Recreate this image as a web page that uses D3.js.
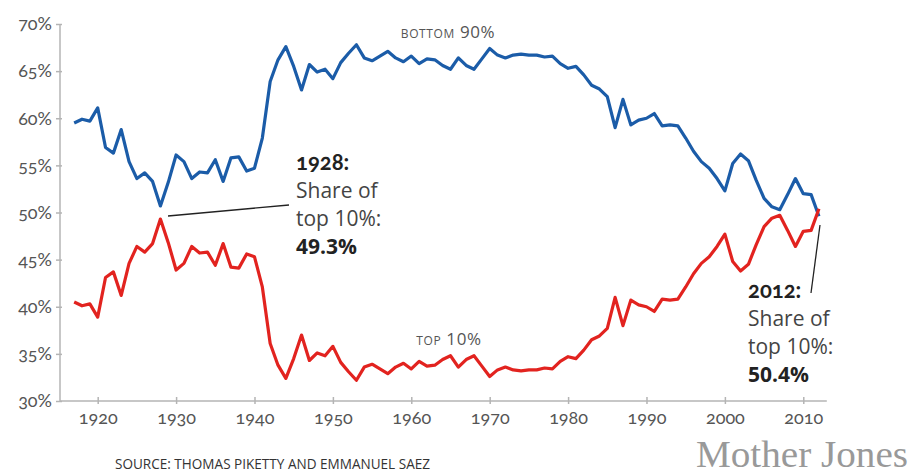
<!DOCTYPE html>
<html>
<head>
<meta charset="utf-8">
<script src="https://cdn.jsdelivr.net/npm/d3@7"></script>
<style>
  html, body { margin: 0; padding: 0; background: #fff; }
  svg { display: block; font-family: "Open Sans", "Noto Sans", sans-serif; }
  .tick-label, .onum { font-family: Lato, "Open Sans", sans-serif; font-variant-numeric: oldstyle-nums; font-feature-settings: "onum" 1; }
</style>
</head>
<body>
<svg id="chart" width="918" height="476"></svg>
<script>
// Share of US pre-tax income, 1917-2012
const years = d3.range(1917, 2013);
const top10 = [
  40.5, 40.1, 40.3, 38.9, 43.1, 43.7, 41.2, 44.6, 46.4, 45.8,
  46.7, 49.3, 46.8, 43.9, 44.6, 46.4, 45.7, 45.8, 44.4, 46.7,
  44.2, 44.1, 45.6, 45.3, 42.1, 36.1, 33.8, 32.4, 34.5, 37.0,
  34.3, 35.1, 34.8, 35.8, 34.1, 33.1, 32.2, 33.6, 33.9, 33.4,
  32.9, 33.6, 34.0, 33.4, 34.2, 33.7, 33.8, 34.4, 34.8, 33.6,
  34.4, 34.8, 33.7, 32.6, 33.3, 33.6, 33.3, 33.2, 33.3, 33.3,
  33.5, 33.4, 34.2, 34.7, 34.5, 35.4, 36.5, 36.9, 37.7, 41.0,
  38.0, 40.7, 40.2, 40.0, 39.5, 40.8, 40.7, 40.8, 42.1, 43.5,
  44.6, 45.3, 46.4, 47.7, 44.8, 43.8, 44.5, 46.6, 48.5, 49.4,
  49.7, 48.1, 46.4, 48.0, 48.1, 50.4
];
const bottom90 = [
  59.5, 59.9, 59.7, 61.1, 56.9, 56.3, 58.8, 55.4, 53.6, 54.2,
  53.3, 50.7, 53.2, 56.1, 55.4, 53.6, 54.3, 54.2, 55.6, 53.3,
  55.8, 55.9, 54.4, 54.7, 57.9, 63.9, 66.2, 67.6, 65.5, 63.0,
  65.7, 64.9, 65.2, 64.2, 65.9, 66.9, 67.8, 66.4, 66.1, 66.6,
  67.1, 66.4, 66.0, 66.6, 65.8, 66.3, 66.2, 65.6, 65.2, 66.4,
  65.6, 65.2, 66.3, 67.4, 66.7, 66.4, 66.7, 66.8, 66.7, 66.7,
  66.5, 66.6, 65.8, 65.3, 65.5, 64.6, 63.5, 63.1, 62.3, 59.0,
  62.0, 59.3, 59.8, 60.0, 60.5, 59.2, 59.3, 59.2, 57.9, 56.5,
  55.4, 54.7, 53.6, 52.3, 55.2, 56.2, 55.5, 53.4, 51.5, 50.6,
  50.3, 51.9, 53.6, 52.0, 51.9, 49.6
];
const yTicks = [30, 35, 40, 45, 50, 55, 60, 65, 70];
const xTicks = [1920, 1930, 1940, 1950, 1960, 1970, 1980, 1990, 2000, 2010];
const seriesLabels = ["bottom 90%", "top 10%"];
const notes = [
  { year: 1928, head: "1928:", body: ["Share of", "top 10%:"], value: "49.3%" },
  { year: 2012, head: "2012:", body: ["Share of", "top 10%:"], value: "50.4%" }
];
const sourceText = "SOURCE: THOMAS PIKETTY AND EMMANUEL SAEZ";
const brand = "Mother Jones";

const svg = d3.select("#chart");
const x = d3.scaleLinear().domain([1915, 2013]).range([58.5, 826.8]);
const y = d3.scaleLinear().domain([30, 70]).range([401, 24]);
const axisColor = "#b4b4b4";
const labelColor = "#555";

// axes
const yAxis = svg.append("g").attr("transform", "translate(60,0)")
  .call(d3.axisLeft(y).tickValues(yTicks).tickSize(4).tickFormat(d => d + "%"));
const xAxis = svg.append("g").attr("transform", "translate(0,401)")
  .call(d3.axisBottom(x).tickValues(xTicks).tickSize(4).tickFormat(d3.format("d")));
[yAxis, xAxis].forEach(g => {
  g.select(".domain").remove();
  g.selectAll(".tick line").attr("stroke", axisColor).attr("stroke-width", 1.5);
  g.selectAll(".tick text").attr("class", "tick-label")
    .attr("fill", labelColor).attr("font-size", 18);
});
yAxis.selectAll(".tick line").attr("x1", -4).attr("x2", 2);
yAxis.selectAll(".tick text").attr("x", -8);
xAxis.selectAll(".tick line").attr("y1", -4).attr("y2", 3);
xAxis.selectAll(".tick text").attr("y", 10);
svg.append("line").attr("x1", 60).attr("x2", 60).attr("y1", 24).attr("y2", 401)
  .attr("stroke", axisColor).attr("stroke-width", 1.5);
svg.append("line").attr("x1", 60).attr("x2", x(2013)).attr("y1", 401).attr("y2", 401)
  .attr("stroke", axisColor).attr("stroke-width", 1.5);

// lines
const line = d3.line().x((d, i) => x(years[i])).y(d => y(d));
svg.append("path").datum(bottom90).attr("d", line)
  .attr("fill", "none").attr("stroke", "#1b5ca8").attr("stroke-width", 3.2)
  .attr("stroke-linejoin", "round");
svg.append("path").datum(top10).attr("d", line)
  .attr("fill", "none").attr("stroke", "#e2231f").attr("stroke-width", 3.2)
  .attr("stroke-linejoin", "round");

// series labels
svg.append("text").attr("x", 448).attr("y", 38).attr("text-anchor", "middle")
  .attr("fill", labelColor).attr("font-size", 17).attr("letter-spacing", 0.6)
  .style("font-variant", "small-caps").text(seriesLabels[0]);
svg.append("text").attr("x", 449).attr("y", 345).attr("text-anchor", "middle")
  .attr("fill", labelColor).attr("font-size", 17).attr("letter-spacing", 0.6)
  .style("font-variant", "small-caps").text(seriesLabels[1]);

// annotations
const noteLayout = [
  { tx: 296, ty: 170, from: [289, 205], to: [168, 216] },
  { tx: 748, ty: 298, from: [811, 293], to: [820, 225] }
];
notes.forEach((n, i) => {
  const L = noteLayout[i];
  svg.append("line").attr("x1", L.from[0]).attr("y1", L.from[1])
    .attr("x2", L.to[0]).attr("y2", L.to[1])
    .attr("stroke", "#222").attr("stroke-width", 1.3);
  const t = svg.append("text").attr("x", L.tx).attr("y", L.ty)
    .attr("fill", "#222").attr("font-size", 21);
  t.append("tspan").attr("x", L.tx).attr("dy", 0).attr("font-weight", 700)
    .attr("class", "onum").attr("font-size", 22).text(n.head);
  n.body.forEach(s => t.append("tspan").attr("x", L.tx).attr("dy", 28).attr("fill", "#444").text(s));
  t.append("tspan").attr("x", L.tx).attr("dy", 28).attr("font-weight", 700).text(n.value);
});

// footer
svg.append("text").attr("x", 115).attr("y", 469).attr("fill", "#333")
  .attr("font-size", 14).attr("font-family", "'Open Sans', sans-serif")
  .attr("textLength", 315).attr("lengthAdjust", "spacingAndGlyphs")
  .text(sourceText);
svg.append("text").attr("x", 696).attr("y", 467).attr("fill", "#999")
  .attr("font-size", 37).attr("font-family", "'Liberation Serif', 'DejaVu Serif', serif")
  .attr("textLength", 212).attr("lengthAdjust", "spacingAndGlyphs")
  .text(brand);
</script>
</body>
</html>
